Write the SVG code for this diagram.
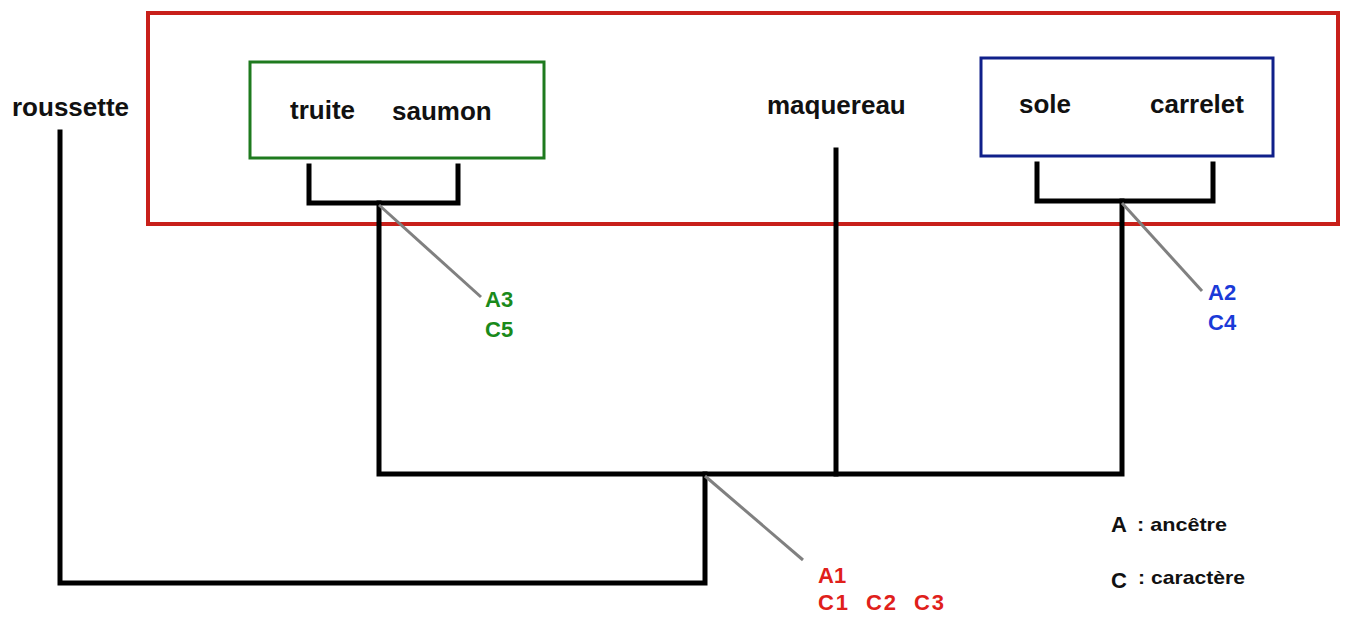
<svg xmlns="http://www.w3.org/2000/svg" width="1347" height="617" viewBox="0 0 1347 617">
<style>
text{font-family:"Liberation Sans",Arial,sans-serif;font-weight:bold}
.n{font-size:26px;fill:#111}
.lbl{font-size:22px}
.leg{font-size:22px;fill:#111}
.legs{font-size:19px;fill:#111}
.tree{fill:none;stroke:#000;stroke-width:5;stroke-linecap:square;stroke-linejoin:miter}
.ptr{stroke:#808080;stroke-width:3}
</style>
<rect width="1347" height="617" fill="#fff"/>
<g id="group-red"><rect x="148" y="13" width="1190" height="211" fill="none" stroke="#c8201a" stroke-width="4"/></g>
<g id="group-green"><rect x="250" y="62" width="294" height="96" fill="none" stroke="#1e7a1e" stroke-width="3"/></g>
<g id="group-blue"><rect x="981" y="58" width="292" height="98" fill="none" stroke="#10208a" stroke-width="3"/></g>
<g id="roussette"><text class="n" x="12" y="116">roussette</text></g>
<g id="truite"><text class="n" x="290" y="119">truite</text></g>
<g id="saumon"><text class="n" x="392" y="120">saumon</text></g>
<g id="maquereau"><text class="n" x="767" y="114">maquereau</text></g>
<g id="sole"><text class="n" x="1019" y="113">sole</text></g>
<g id="carrelet"><text class="n" x="1150" y="113">carrelet</text></g>
<g id="connectors">
<path class="tree" d="M309,166 V203 H458 V166"/>
<path class="tree" d="M1037,164 V201 H1213 V164"/>
<path class="tree" d="M379,203 V474 H1122 V201"/>
<path class="tree" d="M836,150 V474"/>
<path class="tree" d="M705,474 V583 H60 V132"/>
<line class="ptr" x1="379" y1="205" x2="481" y2="297"/>
<line class="ptr" x1="1122" y1="203" x2="1202" y2="291"/>
<line class="ptr" x1="705" y1="476" x2="803" y2="560"/>
</g>
<g id="A3"><text class="lbl" x="485" y="307" fill="#1a8a1a">A3</text><text class="lbl" x="485" y="337" fill="#1a8a1a">C5</text></g>
<g id="A2"><text class="lbl" x="1208" y="300" fill="#1a3ad8">A2</text><text class="lbl" x="1208" y="330" fill="#1a3ad8">C4</text></g>
<g id="A1"><text class="lbl" x="818" y="583" fill="#e0201a">A1</text><text class="lbl" x="818" y="610" fill="#e0201a" xml:space="preserve" textLength="126" lengthAdjust="spacing">C1  C2  C3</text></g>
<g id="legend">
<text class="leg" x="1111" y="532">A</text>
<text class="legs" x="1137" y="531" textLength="90" lengthAdjust="spacingAndGlyphs">: ancêtre</text>
<text class="leg" x="1111" y="588">C</text>
<text class="legs" x="1138" y="584" textLength="107" lengthAdjust="spacingAndGlyphs">: caractère</text>
</g>
</svg>
